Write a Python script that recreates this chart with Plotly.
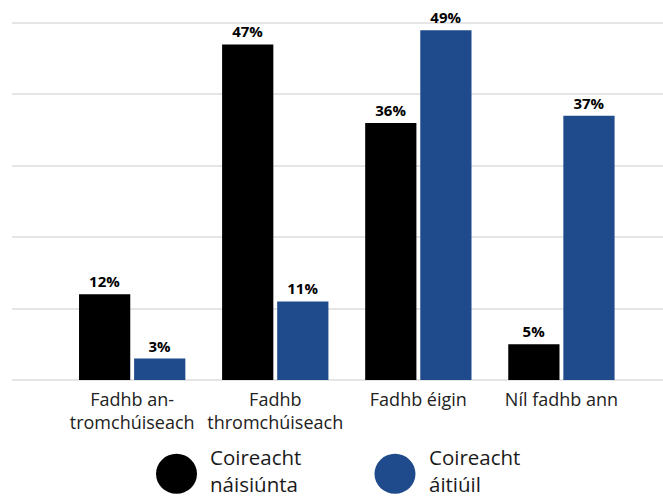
import plotly.graph_objects as go

# survey answers (percent)
categories = ["Fadhb an-<br>tromchúiseach", "Fadhb<br>thromchúiseach", "Fadhb éigin", "Níl fadhb ann"]
national = [12, 47, 36, 5]
local = [3, 11, 49, 37]
series_names = ["Coireacht<br>náisiúnta", "Coireacht<br>áitiúil"]
series_colors = ["#000000", "#1f4a8c"]

FONT = "Open Sans"

fig = go.Figure()
for name, vals, col in zip(series_names, [national, local], series_colors):
    fig.add_trace(
        go.Bar(
            x=categories,
            y=vals,
            name=name,
            marker=dict(color=col, line=dict(width=0)),
            texttemplate="%{y}%",
            textposition="outside",
            textfont=dict(family=FONT, size=15, color="#000000", weight="bold"),
            cliponaxis=False,
            showlegend=False,
        )
    )

# hand-drawn legend with big round markers
legend_y = -0.262
legend_x = [0.2527, 0.5883]
for name, col, lx in zip(series_names, series_colors, legend_x):
    fig.add_shape(
        type="circle",
        xref="paper", yref="paper",
        xsizemode="pixel", ysizemode="pixel",
        xanchor=lx, yanchor=legend_y,
        x0=-20.5, x1=20.5, y0=-20, y1=20,
        fillcolor=col, line=dict(width=0),
    )
    fig.add_annotation(
        x=lx + 0.049, y=legend_y + 0.008, xref="paper", yref="paper",
        text=name, showarrow=False, xanchor="left", yanchor="middle", align="left",
        font=dict(family=FONT, size=20.5, color="#1a1a1a"),
    )

fig.update_layout(
    width=663,
    height=498,
    margin=dict(l=12, r=0, t=22, b=118),
    paper_bgcolor="white",
    plot_bgcolor="white",
    barmode="group",
    bargap=0.23,
    bargroupgap=0.07,
    showlegend=False,
    font=dict(family=FONT, color="#222222"),
)
fig.update_xaxes(
    range=[-0.84, 3.71],
    showgrid=False,
    showline=False,
    ticks="",
    ticklabelstandoff=7,
    tickfont=dict(family=FONT, size=18, color="#222222"),
)
fig.update_yaxes(
    range=[0, 50.15],
    tick0=0,
    dtick=10,
    showticklabels=False,
    showgrid=True,
    gridcolor="#e5e5e5",
    gridwidth=2,
    zeroline=True,
    zerolinecolor="#e5e5e5",
    zerolinewidth=2,
)

fig.write_html(
    "out.html",
    config={"displayModeBar": False},
    post_script="document.body.style.margin='0';",
)
